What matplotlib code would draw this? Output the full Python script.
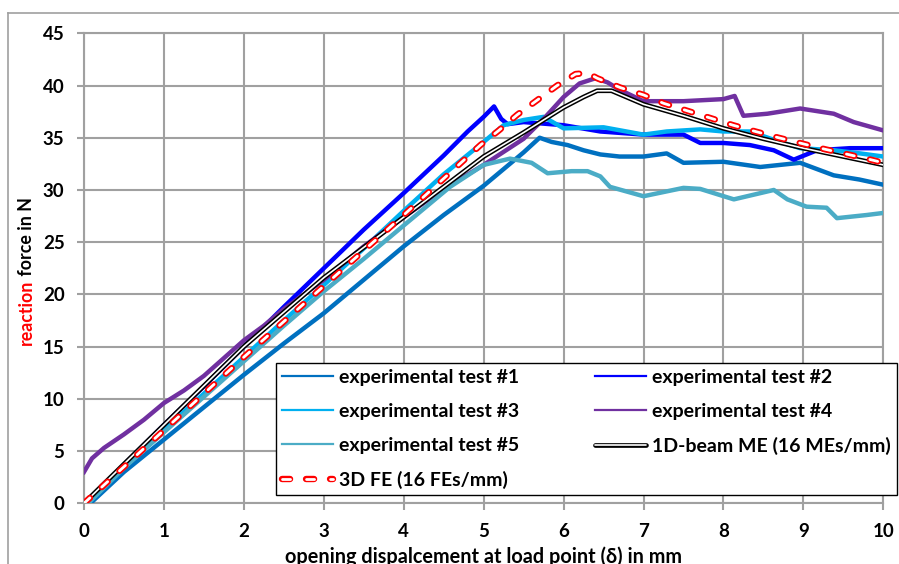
import matplotlib
matplotlib.use("Agg")
import matplotlib.pyplot as plt
from matplotlib.lines import Line2D

plt.rcParams["font.family"] = ["Lato", "DejaVu Sans"]
plt.rcParams["font.weight"] = "bold"
plt.rcParams["lines.scale_dashes"] = False

# --- data ---
t1_x = [0.08, 0.5, 1.0, 1.5, 2.0, 2.5, 3.0, 3.5, 4.0, 4.5, 5.0, 5.25, 5.5, 5.7, 5.85, 6.05, 6.25,
        6.46, 6.7, 7.0, 7.29, 7.5, 8.0, 8.46, 8.96, 9.38, 9.7, 10.0]
t1_y = [0.0, 3.0, 6.1, 9.2, 12.3, 15.3, 18.2, 21.4, 24.6, 27.6, 30.4, 32.0, 33.6, 35.0, 34.6, 34.3, 33.8,
        33.4, 33.2, 33.2, 33.5, 32.6, 32.7, 32.2, 32.6, 31.4, 31.0, 30.5]

t2_x = [0.05, 0.5, 1.0, 1.5, 2.0, 2.5, 3.0, 3.5, 4.0, 4.5, 4.8, 5.0, 5.13, 5.22, 5.3, 5.5, 6.0,
        6.46, 7.0, 7.5, 7.71, 8.0, 8.33, 8.63, 8.88, 9.17, 9.58, 10.0]
t2_y = [0.0, 3.7, 7.5, 11.2, 15.0, 18.8, 22.5, 26.2, 29.7, 33.3, 35.6, 37.0, 38.0, 36.8, 36.3, 36.5, 36.2,
        35.6, 35.3, 35.3, 34.5, 34.5, 34.3, 33.8, 32.9, 33.8, 34.0, 34.0]

t3_x = [0.05, 0.5, 1.0, 1.5, 2.0, 2.5, 3.0, 3.5, 4.0, 4.5, 5.0, 5.25, 5.5, 5.75, 6.0, 6.5, 7.0,
        7.29, 7.71, 8.0, 8.33, 8.67, 8.96, 9.38, 9.71, 10.0]
t3_y = [0.0, 3.4, 7.0, 10.5, 14.0, 17.5, 20.9, 24.4, 28.0, 31.5, 34.6, 36.2, 36.7, 37.0, 35.9, 36.0, 35.3,
        35.6, 35.8, 35.6, 35.6, 34.7, 34.0, 33.8, 33.5, 33.2]

t4_x = [0.0, 0.1, 0.25, 0.5, 0.75, 1.0, 1.25, 1.5, 1.75, 2.0, 2.25, 2.5, 3.0, 3.5, 4.0, 4.5, 5.0,
        5.5, 5.75, 6.0, 6.2, 6.4, 6.55, 6.7, 7.0, 7.5, 8.0, 8.14, 8.25, 8.55, 8.96, 9.38, 9.63, 10.0]
t4_y = [3.0, 4.3, 5.3, 6.6, 8.0, 9.6, 10.8, 12.2, 13.9, 15.6, 17.0, 18.6, 21.4, 24.6, 27.4, 30.1, 32.4,
        34.9, 36.8, 38.9, 40.2, 40.7, 40.3, 39.6, 38.5, 38.5, 38.7, 39.0, 37.1, 37.3, 37.8, 37.3, 36.5, 35.7]

t5_x = [0.05, 0.5, 1.0, 1.5, 2.0, 2.5, 3.0, 3.5, 4.0, 4.58, 5.0, 5.33, 5.6, 5.8, 6.1, 6.3, 6.46,
        6.58, 7.0, 7.5, 7.71, 8.13, 8.63, 8.8, 9.04, 9.29, 9.42, 9.79, 10.0]
t5_y = [0.0, 3.4, 6.8, 10.2, 13.6, 17.0, 20.3, 23.4, 26.6, 30.3, 32.4, 33.0, 32.6, 31.6, 31.8, 31.8, 31.3,
        30.3, 29.4, 30.2, 30.1, 29.1, 30.0, 29.1, 28.4, 28.3, 27.3, 27.6, 27.8]

beam_x = [0, 1, 2, 3, 4, 5, 5.5, 6.0, 6.25, 6.42, 6.6, 7.0, 7.5, 8.0, 8.5, 9.0, 9.5, 10.0]
beam_y = [0, 7.5, 15.0, 21.6, 27.4, 33.2, 35.5, 37.9, 38.9, 39.5, 39.5, 38.2, 37.1, 35.9, 34.9, 34.0, 33.2, 32.4]

fe_x = [0, 1, 2, 3, 4, 4.73, 4.96, 5.19, 5.42, 5.67, 5.92, 6.15, 6.3, 6.42, 6.71, 7.0, 7.25, 7.54,
        7.83, 8.12, 8.4, 8.69, 8.98, 9.27, 9.56, 9.87, 10.0]
fe_y = [0, 7.0, 14.0, 20.8, 27.6, 32.7, 34.3, 35.7, 37.2, 38.6, 40.0, 41.1, 41.2, 40.7, 39.8, 39.1, 38.3, 37.6,
        36.9, 36.2, 35.6, 35.0, 34.45, 33.9, 33.4, 32.85, 32.6]

labels = ["experimental test #1", "experimental test #2", "experimental test #3",
          "experimental test #4", "experimental test #5", "1D-beam ME (16 MEs/mm)", "3D FE (16 FEs/mm)"]
colors = ["#0070C0", "#0000FF", "#00B0F0", "#7030A0", "#4BACC6"]

W, H = 899, 564
fig = plt.figure(figsize=(W / 100, H / 100), dpi=100)
ax = fig.add_axes([84 / W, (H - 503.3) / H, 799.3 / W, 470 / H])

grey = "#A0A0A0"
exp_lines = []
for xs, ys, c, lab in zip([t1_x, t2_x, t3_x, t4_x, t5_x], [t1_y, t2_y, t3_y, t4_y, t5_y], colors, labels[:5]):
    ln, = ax.plot(xs, ys, color=c, lw=3.2, solid_joinstyle="round", label=lab, zorder=3)
    exp_lines.append(ln)

beam_out, = ax.plot(beam_x, beam_y, color="black", lw=3.4, solid_capstyle="round", zorder=4)
beam_in, = ax.plot(beam_x, beam_y, color="white", lw=1.2, solid_capstyle="round", zorder=4)

dash = (0, (5.8, 11.5))
fe_out, = ax.plot(fe_x, fe_y, color="red", lw=4.6, linestyle=dash, dash_capstyle="round", zorder=5)
fe_in, = ax.plot(fe_x, fe_y, color="white", lw=2.0, linestyle=dash, dash_capstyle="round", zorder=5)

ax.set_xlim(0, 10)
ax.set_ylim(0, 45)
ax.set_xticks(range(0, 11))
ax.set_yticks(range(0, 46, 5))
ax.grid(True, color=grey, lw=1.5)
ax.set_axisbelow(True)
for s in ax.spines.values():
    s.set_color(grey)
    s.set_linewidth(1.5)
ax.tick_params(axis="both", colors=grey, width=1.5, length=5, labelsize=13.5, pad=9)
for lab in ax.get_xticklabels() + ax.get_yticklabels():
    lab.set_color("black")
    lab.set_fontweight("bold")

handles = [exp_lines[0], exp_lines[2], exp_lines[4], (fe_out, fe_in),
           exp_lines[1], exp_lines[3], (beam_out, beam_in)]
names = [labels[0], labels[2], labels[4], labels[6], labels[1], labels[3], labels[5]]
fs = 14
leg = ax.legend(handles, names, ncol=2, loc="upper left",
                bbox_to_anchor=(275.5 / W, (H - 362.7) / H), bbox_transform=fig.transFigure,
                fontsize=fs, frameon=True, fancybox=False, edgecolor="black", framealpha=1,
                borderaxespad=0, borderpad=0.32, handlelength=36.7 / fs, handletextpad=4.3 / fs,
                labelspacing=0.87, columnspacing=55 / fs)
leg.get_frame().set_linewidth(1.0)
for ln in leg.get_lines():
    if ln.get_color() in colors:
        ln.set_linewidth(1.6)
leg.set_zorder(10)

# outer chart border (cropped at right and bottom)
fig.add_artist(Line2D([8.3 / W, 1], [(H - 12.7) / H] * 2, color=grey, lw=1.2))
fig.add_artist(Line2D([8.3 / W] * 2, [0, (H - 12.7) / H], color=grey, lw=1.2))

fig.text(483.5 / W, (H - 546) / H, "opening dispalcement at load point (\u03b4) in mm",
         ha="center", va="top", fontsize=14.3, fontweight="bold")

# y label with red first word
fig.canvas.draw()
r = fig.canvas.get_renderer()
t1 = fig.text(32 / W, (H - 345) / H, "reaction", rotation=90, rotation_mode="anchor",
              ha="left", va="baseline", color="red", fontsize=12.8, fontweight="bold")
bb = t1.get_window_extent(renderer=r)
fig.text(32 / W, bb.y1 / H, " force in N", rotation=90, rotation_mode="anchor",
         ha="left", va="baseline", color="black", fontsize=12.8, fontweight="bold")

fig.savefig("out.png", dpi=100)
